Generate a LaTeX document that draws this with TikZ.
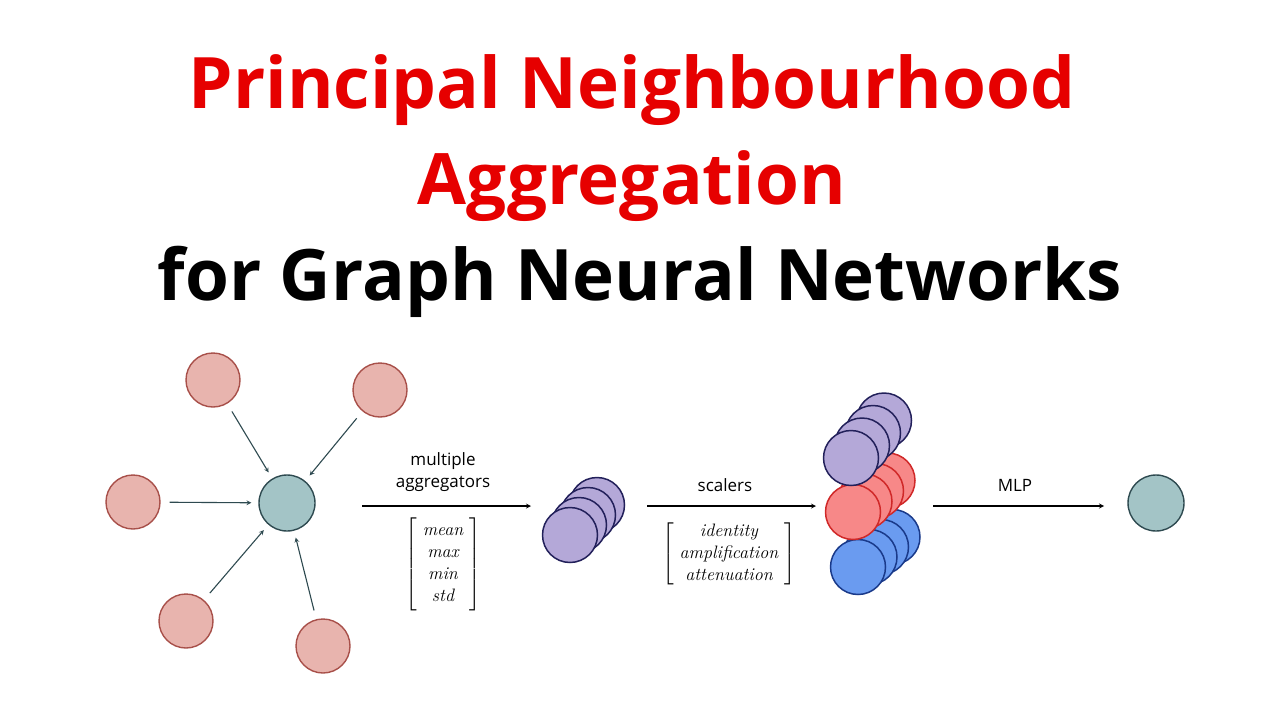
\documentclass[tikz,border=0pt]{standalone}
\usepackage{amsmath}
\usepackage{fontspec}
\setmainfont{Open Sans}
\newfontfamily\lmfont{Latin Modern Roman}
\usetikzlibrary{arrows,positioning}
\definecolor{titlered}{HTML}{E60000}
\definecolor{tealfill}{HTML}{A3C4C6}
\definecolor{tealdraw}{HTML}{2E4A50}
\definecolor{pinkfill}{HTML}{E8B4AE}
\definecolor{pinkdraw}{HTML}{A8504A}
\definecolor{purfill}{HTML}{B4A8D8}
\definecolor{purdraw}{HTML}{22205A}
\definecolor{redfill}{HTML}{F78888}
\definecolor{reddraw}{HTML}{D02828}
\definecolor{bluefill}{HTML}{6A9BF0}
\definecolor{bluedraw}{HTML}{1A3A8A}
\tikzstyle{titletext}=[inner sep=0pt,font=\fontsize{71}{80}\selectfont\bfseries]
\tikzstyle{lbl}=[inner sep=0pt,font=\fontsize{17}{22}\selectfont]
\tikzstyle{mlbl}=[inner sep=0pt,font=\fontsize{18}{22}\selectfont\lmfont\itshape]
\tikzstyle{hub}=[circle,fill=tealfill,draw=tealdraw,line width=1.4pt,minimum size=56pt,inner sep=0pt]
\tikzstyle{neigh}=[circle,fill=pinkfill,draw=pinkdraw,line width=1.4pt,minimum size=54pt,inner sep=0pt]
\tikzstyle{feat}=[circle,line width=1.5pt,minimum size=55pt,inner sep=0pt]
\tikzstyle{inarrow}=[->,>=stealth,draw=tealdraw,line width=1.1pt,shorten >=7pt,shorten <=9pt]
\tikzstyle{pipe}=[->,>=stealth,line width=1.2pt]
\begin{document}
\begin{tikzpicture}[x=1pt,y=-1pt]
	\useasboundingbox (0,0) rectangle (1280,720);
	% title
	\node [style=titletext,text=titlered] (T1) at (632,90) {Principal Neighbourhood};
	\node [style=titletext,text=titlered] (T2) at (632,186) {Aggregation};
	\node [style=titletext] (T3) at (640,282) {for Graph Neural Networks};
	% neighbourhood
	\node [style=hub] (C) at (287,503) {};
	\node [style=neigh] (N1) at (213,380) {};
	\node [style=neigh] (N2) at (380,390) {};
	\node [style=neigh] (N3) at (133,502) {};
	\node [style=neigh] (N4) at (186,621) {};
	\node [style=neigh] (N5) at (323,646) {};
	\draw [style=inarrow] (N1) to (C);
	\draw [style=inarrow] (N2) to (C);
	\draw [style=inarrow] (N3) to (C);
	\draw [style=inarrow] (N4) to (C);
	\draw [style=inarrow] (N5) to (C);
	% aggregators
	\coordinate (A1) at (362,506);
	\coordinate (A2) at (531,506);
	\draw [style=pipe] (A1) to (A2);
	\node [style=lbl,align=center] (agg) at (443,472) {multiple\\aggregators};
	\node [style=mlbl] (aggm) at (443,564) {$\left[\begin{tabular}{c}mean\\max\\min\\std\end{tabular}\right]$};
	\foreach \i in {3,2,1,0}
		\node [style=feat,fill=purfill,draw=purdraw] (P\i) at (570+9*\i,535-10*\i) {};
	% scalers
	\coordinate (S1) at (647,506);
	\coordinate (S2) at (816,506);
	\draw [style=pipe] (S1) to (S2);
	\node [style=lbl] (sca) at (725,485) {scalers};
	\node [style=mlbl] (scam) at (729,554) {$\left[\begin{tabular}{c}identity\\amplification\\attenuation\end{tabular}\right]$};
	\foreach \i in {3,2,1,0}
		\node [style=feat,fill=bluefill,draw=bluedraw] (B\i) at (858+11.5*\i,567-10*\i) {};
	\foreach \i in {3,2,1,0}
		\node [style=feat,fill=redfill,draw=reddraw] (R\i) at (853+11.5*\i,512-10.5*\i) {};
	\foreach \i in {3,2,1,0}
		\node [style=feat,fill=purfill,draw=purdraw] (U\i) at (851+11*\i,458-12.5*\i) {};
	% mlp
	\coordinate (M1) at (933,506);
	\coordinate (M2) at (1104,506);
	\draw [style=pipe] (M1) to (M2);
	\node [style=lbl] (mlp) at (1015,485) {MLP};
	\node [style=hub] (out) at (1156,503) {};
\end{tikzpicture}
\end{document}
